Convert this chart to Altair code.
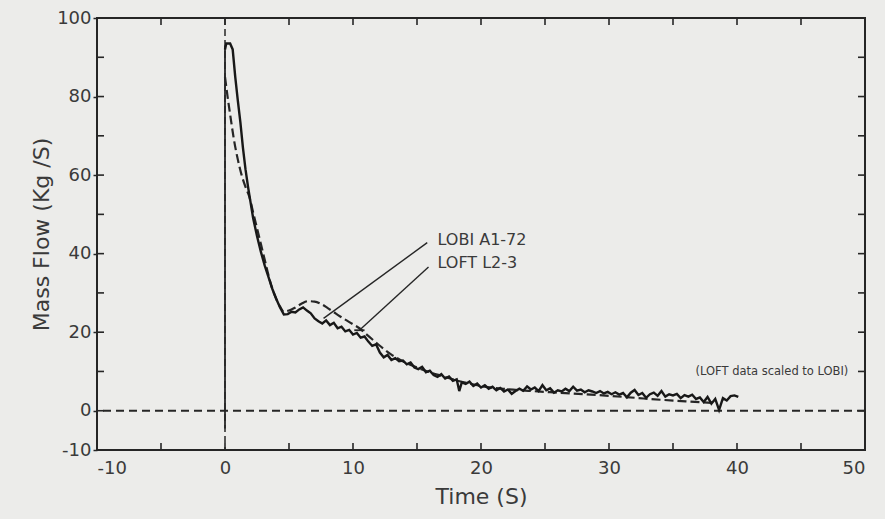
import altair as alt
import pandas as pd

# Solid trace: LOBI A1-72 mass flow (kg/s) vs time (s)
lobi_t = [0, 0.1, 0.4, 0.6, 0.8, 1.0, 1.2, 1.4, 1.6, 1.8, 2.0, 2.2, 2.5, 2.8, 3.1, 3.4, 3.7, 4.0,
          4.3, 4.6, 4.9, 5.2, 5.5, 5.8, 6.1, 6.4, 6.7, 7.0, 7.3, 7.6, 7.9, 8.2, 8.5, 8.8, 9.1, 9.4,
          9.7, 10.0, 10.3, 10.6, 10.9, 11.2, 11.5, 11.8, 12.1, 12.4, 12.7, 13.0, 13.3, 13.6, 13.9,
          14.2, 14.5, 14.8, 15.1, 15.4, 15.7, 16.0, 16.3, 16.6, 16.9, 17.2, 17.5, 17.8, 18.1, 18.3,
          18.5, 18.8, 19.1, 19.4, 19.7, 20.0, 20.3, 20.6, 20.9, 21.2, 21.5, 21.8, 22.1, 22.4, 22.7,
          23.0, 23.3, 23.6, 23.9, 24.2, 24.5, 24.8, 25.1, 25.4, 25.7, 26.0, 26.3, 26.6, 26.9, 27.2,
          27.5, 27.8, 28.1, 28.4, 28.7, 29.0, 29.3, 29.6, 29.9, 30.2, 30.5, 30.8, 31.1, 31.4, 31.7,
          32.0, 32.3, 32.6, 32.9, 33.2, 33.5, 33.8, 34.1, 34.4, 34.7, 35.0, 35.3, 35.6, 35.9, 36.2,
          36.5, 36.8, 37.1, 37.4, 37.7, 38.0, 38.3, 38.6, 38.9, 39.2, 39.5, 39.8, 40.1]
lobi_v = [92, 93.5, 93.5, 92, 85, 79, 73.5, 67, 61.5, 57, 53, 49, 44.5, 40.5, 37, 34, 31, 28.5,
          26.3, 24.5, 24.6, 25.2, 25.0, 25.8, 26.3, 25.5, 24.8, 23.5, 22.8, 22.2, 23.0, 21.8, 22.4,
          21.0, 21.4, 20.2, 20.6, 19.4, 19.8, 18.6, 18.9, 17.6, 16.5, 16.9, 14.8, 13.6, 14.2, 12.9,
          13.4, 12.6, 12.8, 11.8, 12.3, 11.0, 10.6, 11.2, 9.8, 10.2, 9.1, 8.6, 9.3, 8.2, 8.7, 7.6,
          8.0, 5.0, 7.2, 6.8, 7.4, 6.3, 6.9, 5.9, 6.5, 5.6, 6.1, 5.2, 5.8, 4.9, 5.4, 4.3, 5.0, 5.6,
          5.1, 6.2, 5.4, 5.9, 5.0, 6.5, 5.2, 5.7, 4.6, 5.2, 4.9, 5.6, 5.0, 6.1, 5.1, 5.4, 4.7, 5.2,
          4.9, 4.5, 5.0, 4.4, 4.8, 4.2, 4.7, 4.1, 4.5, 3.4, 4.6, 5.3, 4.0, 4.5, 3.3, 4.2, 4.6, 3.8,
          5.0, 3.6, 4.2, 3.9, 4.3, 3.2, 4.0, 3.6, 4.1, 3.0, 3.4, 2.2, 3.5, 1.8, 3.0, 0.2, 3.2, 2.6,
          3.7, 3.9, 3.5]

# Dashed trace: LOFT L2-3 (scaled to LOBI)
loft_t = [0, 0.2, 0.4, 0.7, 1.0, 1.3, 1.6, 1.9, 2.2, 2.5, 2.8, 3.1, 3.4, 3.7, 4.0, 4.3, 4.6, 5.0,
          5.5, 6.0, 6.5, 7.0, 7.5, 8.0, 8.5, 9.0, 9.5, 10.0, 10.5, 11.0, 11.5, 12.0, 12.5, 13.0,
          13.5, 14.0, 15.0, 16.0, 17.0, 18.0, 19.0, 20.0, 22.0, 24.0, 26.0, 28.0, 30.0, 32.0, 34.0,
          36.0, 38.0]
loft_v = [85, 80, 75.5, 69, 64, 60, 57, 54.5, 50.5, 46.5, 42.5, 38.5, 34.5, 31, 28.5, 26.5, 25.2,
          25.5, 26.3, 27.3, 27.9, 27.8, 27.2, 26.2, 25.1, 24.0, 23.0, 22.0, 21.0, 19.6, 18.2, 16.8,
          15.5, 14.3, 13.3, 12.4, 11.0, 9.8, 8.8, 7.8, 7.0, 6.3, 5.5, 5.0, 4.6, 4.2, 3.8, 3.3, 2.8,
          2.4, 2.0]

# Axis ticks
x_labels = [-10, 0, 10, 20, 30, 40, 50]
x_minor = [-5, 0, 5, 10, 15, 20, 25, 30, 35, 40, 45]
y_labels = [-10, 0, 20, 40, 60, 80, 100]
y_minor = [0, 10, 20, 30, 40, 50, 60, 70, 80, 90]

# Time-zero marker: solid segment bounds
t0_solid = [-4.5, 93]

# Series labels with leader lines
label_names = ["LOBI A1-72", "LOFT L2-3"]
label_t = [16.6, 16.6]
label_v = [43.4, 37.6]
leader_t1 = [15.8, 15.9]
leader_v1 = [42.8, 36.6]
leader_t2 = [7.7, 10.5]
leader_v2 = [23.5, 20.5]
bar_t = [10.1, 10.9]
bar_v = 20.5

note_text = "(LOFT data scaled  to LOBI)"
note_t, note_v = 48.7, 9.8

W, H = 768, 432
INK = "#262626"
TXT = "#3a3a3a"
FONT = "DejaVu Sans"

xs = alt.Scale(domain=[-10, 50], nice=False, zero=False)
ys = alt.Scale(domain=[-10, 100], nice=False, zero=False)

lobi = pd.DataFrame({"t": lobi_t, "v": lobi_v})
loft = pd.DataFrame({"t": loft_t, "v": loft_v})

axis_x = alt.Axis(values=x_labels, ticks=False, domain=False, grid=False, labelPadding=9,
                  labelFontSize=18, labelColor=TXT, labelFont=FONT, labelExpr="'' + datum.value",
                  title="Time (S)", titleFontSize=22, titleFont=FONT, titleColor=TXT,
                  titleFontWeight="normal", titlePadding=9)
axis_y = alt.Axis(values=y_labels, tickSize=4, tickColor=INK, tickWidth=1.5, domain=False,
                  grid=False, labelPadding=2, labelFontSize=18, labelColor=TXT, labelFont=FONT,
                  labelExpr="'' + datum.value",
                  title="Mass Flow (Kg /S)", titleFontSize=22, titleFont=FONT, titleColor=TXT,
                  titleFontWeight="normal", titlePadding=3)

zero_line = alt.Chart(pd.DataFrame({"v": [0]})).mark_rule(
    color=INK, strokeWidth=1.8, strokeDash=[8, 5]
).encode(y=alt.Y("v:Q", scale=ys, axis=axis_y))

t0_dash = alt.Chart(pd.DataFrame({"t": [0]})).mark_rule(
    color=INK, strokeWidth=1.5, strokeDash=[7, 4]
).encode(x=alt.X("t:Q", scale=xs, axis=axis_x))

t0_seg = alt.Chart(pd.DataFrame({"t": [0], "a": [t0_solid[0]], "b": [t0_solid[1]]})).mark_rule(
    color=INK, strokeWidth=1.8
).encode(x=alt.X("t:Q", scale=xs), y=alt.Y("a:Q", scale=ys), y2="b:Q")

loft_line = alt.Chart(loft).mark_line(
    color=INK, strokeWidth=2.2, strokeDash=[9, 4], interpolate="monotone"
).encode(x=alt.X("t:Q", scale=xs), y=alt.Y("v:Q", scale=ys))

lobi_line = alt.Chart(lobi).mark_line(color="#181818", strokeWidth=2.4).encode(
    x=alt.X("t:Q", scale=xs), y=alt.Y("v:Q", scale=ys))

leaders = alt.Chart(pd.DataFrame({"t1": leader_t1, "v1": leader_v1,
                                  "t2": leader_t2, "v2": leader_v2})).mark_rule(
    color=INK, strokeWidth=1.4
).encode(x=alt.X("t1:Q", scale=xs), y=alt.Y("v1:Q", scale=ys), x2="t2:Q", y2="v2:Q")

bar = alt.Chart(pd.DataFrame({"a": [bar_t[0]], "b": [bar_t[1]], "v": [bar_v]})).mark_rule(
    color=INK, strokeWidth=1.8
).encode(x=alt.X("a:Q", scale=xs), x2="b:Q", y=alt.Y("v:Q", scale=ys))

labels = alt.Chart(pd.DataFrame({"t": label_t, "v": label_v, "s": label_names})).mark_text(
    align="left", baseline="middle", fontSize=16, font=FONT, color=TXT
).encode(x=alt.X("t:Q", scale=xs), y=alt.Y("v:Q", scale=ys), text="s:N")

note = alt.Chart(pd.DataFrame({"t": [note_t], "v": [note_v], "s": [note_text]})).mark_text(
    align="right", baseline="middle", fontSize=11.5, font=FONT, color=TXT
).encode(x=alt.X("t:Q", scale=xs), y=alt.Y("v:Q", scale=ys), text="s:N")

# Inward tick marks on all four sides of the frame
xm = pd.DataFrame({"t": x_minor})
ym = pd.DataFrame({"v": y_minor})
tick_bottom = alt.Chart(xm).mark_rule(color=INK, strokeWidth=1.6).encode(
    x=alt.X("t:Q", scale=xs), y=alt.value(H), y2=alt.value(H - 7))
tick_top = alt.Chart(xm).mark_rule(color=INK, strokeWidth=1.6).encode(
    x=alt.X("t:Q", scale=xs), y=alt.value(0), y2=alt.value(7))
tick_left = alt.Chart(ym).mark_rule(color=INK, strokeWidth=1.6).encode(
    y=alt.Y("v:Q", scale=ys), x=alt.value(0), x2=alt.value(7))
tick_right = alt.Chart(ym).mark_rule(color=INK, strokeWidth=1.6).encode(
    y=alt.Y("v:Q", scale=ys), x=alt.value(W), x2=alt.value(W - 7))

chart = alt.layer(
    zero_line, t0_dash, t0_seg, loft_line, lobi_line, leaders, bar, labels, note,
    tick_bottom, tick_top, tick_left, tick_right
).properties(
    width=W, height=H,
    autosize=alt.AutoSizeParams(type="none"),
    padding={"left": 97, "top": 18, "right": 20, "bottom": 69},
    background="#ececea",
).configure_view(stroke=INK, strokeWidth=2)

chart.save("out.html", embed_options={"renderer": "svg", "actions": False})
